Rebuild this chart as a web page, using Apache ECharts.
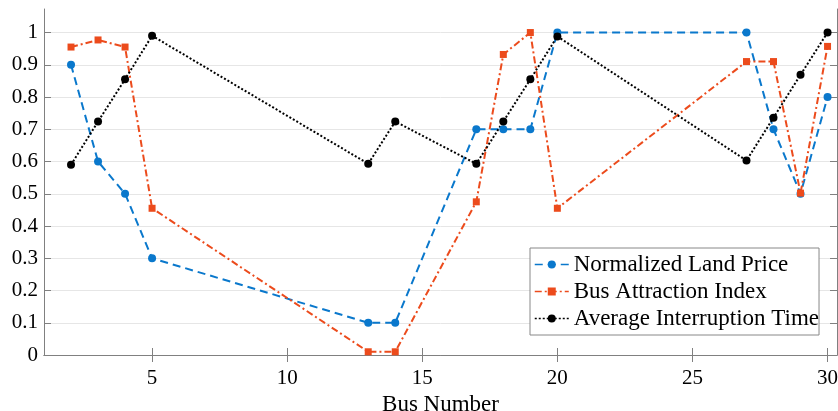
<!DOCTYPE html>
<html>
<head>
<meta charset="utf-8">
<script src="https://cdn.jsdelivr.net/npm/echarts@6/dist/echarts.min.js"></script>
<style>
html,body{margin:0;padding:0;background:#fff;}
#chart{width:838px;height:411px;}
</style>
</head>
<body>
<div id="chart"></div>
<script>
const busNumbers = [2, 3, 4, 5, 13, 14, 17, 18, 19, 20, 27, 28, 29, 30];
const landPrice = [0.9, 0.6, 0.5, 0.3, 0.1, 0.1, 0.7, 0.7, 0.7, 1.0, 1.0, 0.7, 0.5, 0.8];
const attraction = [0.955, 0.977, 0.955, 0.455, 0.01, 0.01, 0.475, 0.932, 1.0, 0.455, 0.91, 0.91, 0.502, 0.957];
const interruption = [0.59, 0.724, 0.855, 0.99, 0.593, 0.724, 0.593, 0.724, 0.855, 0.988, 0.603, 0.736, 0.869, 1.0];
const xTicks = [5, 10, 15, 20, 25, 30];
const yTicks = [0, 0.1, 0.2, 0.3, 0.4, 0.5, 0.6, 0.7, 0.8, 0.9, 1];

const pair = (ys) => busNumbers.map((x, i) => [x, ys[i]]);
const font = 'Liberation Serif';
const axisColor = '#808080';

const chart = echarts.init(document.getElementById('chart'), null, {renderer: 'canvas'});
chart.setOption({
  animation: false,
  backgroundColor: '#fff',
  grid: {left: 44, right: 1, top: 9, bottom: 56, containLabel: false, outerBoundsMode: 'none'},
  xAxis: [{
    type: 'value', min: 1, max: 30.35, position: 'bottom',
    name: 'Bus Number', nameLocation: 'middle', nameGap: 33,
    nameTextStyle: {fontFamily: font, fontSize: 23, color: '#000'},
    axisLine: {show: true, lineStyle: {color: axisColor, width: 1}},
    axisTick: {show: true, inside: true, length: 7, customValues: xTicks, lineStyle: {color: axisColor}},
    axisLabel: {customValues: xTicks, fontFamily: font, fontSize: 21, color: '#000', margin: 13},
    splitLine: {show: false}
  }, {
    type: 'value', min: 1, max: 30.35, position: 'top',
    axisLine: {show: true, lineStyle: {color: axisColor, width: 1}},
    axisTick: {show: true, inside: true, length: 7, customValues: xTicks, lineStyle: {color: axisColor}},
    axisLabel: {show: false},
    splitLine: {show: false}
  }],
  yAxis: [{
    type: 'value', min: 0, max: 1.073, interval: 0.1, position: 'left',
    axisLine: {show: true, lineStyle: {color: axisColor, width: 1}},
    axisTick: {show: true, inside: true, length: 7, customValues: yTicks, lineStyle: {color: axisColor}},
    axisLabel: {customValues: yTicks, fontFamily: font, fontSize: 21, color: '#000', margin: 6},
    splitLine: {show: true, lineStyle: {color: '#e6e6e6', width: 1}}
  }, {
    type: 'value', min: 0, max: 1.073, interval: 0.1, position: 'right',
    axisLine: {show: true, lineStyle: {color: axisColor, width: 1}},
    axisTick: {show: true, inside: true, length: 7, customValues: yTicks, lineStyle: {color: axisColor}},
    axisLabel: {show: false},
    splitLine: {show: false}
  }],
  legend: {
    orient: 'vertical', left: 530, top: 248,
    backgroundColor: '#fff', borderColor: '#888', borderWidth: 1,
    padding: [5, 0, 5, 4], itemGap: 4, itemWidth: 34, itemHeight: 10,
    lineStyle: {width: 1.5},
    textStyle: {fontFamily: font, fontSize: 23, color: '#000'},
    data: ['Normalized Land Price', 'Bus Attraction Index', 'Average Interruption Time']
  },
  series: [{
    name: 'Normalized Land Price', type: 'line', data: pair(landPrice),
    symbol: 'circle', symbolSize: 8,
    itemStyle: {color: '#0A78CC'},
    lineStyle: {color: '#0A78CC', width: 2, type: [8, 5]}
  }, {
    name: 'Bus Attraction Index', type: 'line', data: pair(attraction),
    symbol: 'rect', symbolSize: 7,
    itemStyle: {color: '#EC4B1C'},
    lineStyle: {color: '#EC4B1C', width: 2, type: [7, 3, 2, 3]}
  }, {
    name: 'Average Interruption Time', type: 'line', data: pair(interruption),
    symbol: 'circle', symbolSize: 8,
    itemStyle: {color: '#000'},
    lineStyle: {color: '#000', width: 2, type: [2, 2]}
  }]
});
</script>
</body>
</html>
